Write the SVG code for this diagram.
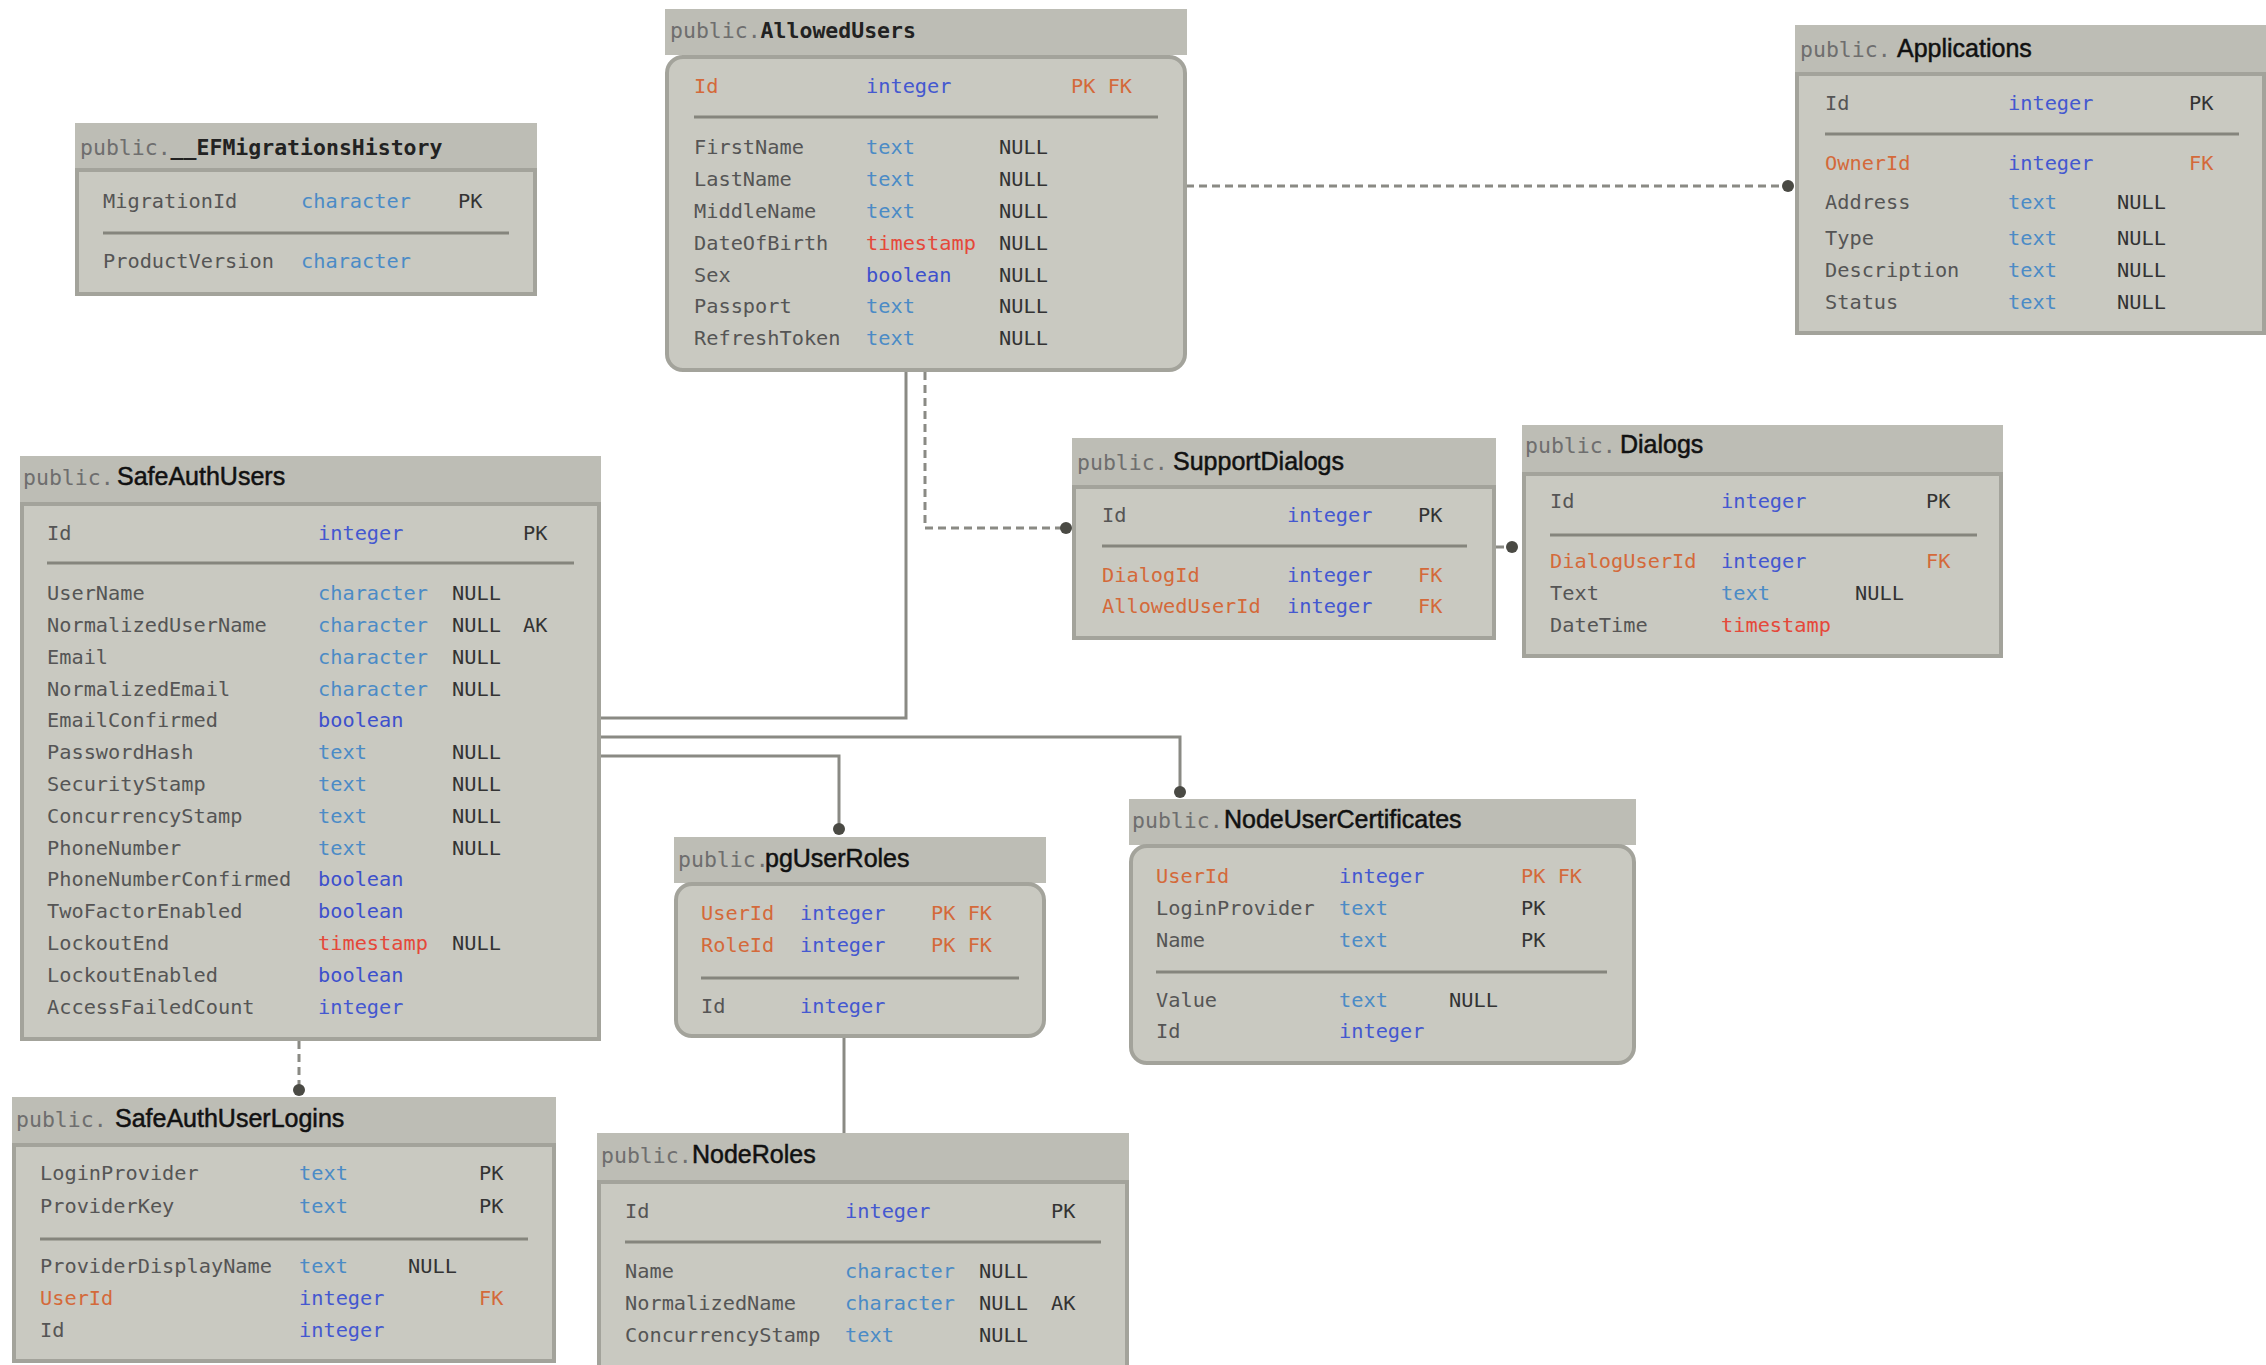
<svg xmlns="http://www.w3.org/2000/svg" width="2266" height="1365" viewBox="0 0 2266 1365">
<style>
.hd{fill:#bdbdb5}
.bd{fill:#c9c9c1;stroke:#a3a39b;stroke-width:4}
.sep{stroke:#85857d;stroke-width:3}
text{font-family:"DejaVu Sans Mono","Liberation Mono",monospace;font-size:20.3px}
.pub{fill:#6e6e6e;font-size:21.5px}
.tn{font-family:"Liberation Sans",Arial,sans-serif;font-size:25px;fill:#111;stroke:#111;stroke-width:0.5}
.tm{font-weight:bold;font-size:21.5px;fill:#222}
.c{fill:#555}
.o{fill:#d4693a}
.i{fill:#4458d0}
.t{fill:#4b8bc6}
.b{fill:#3d50cc}
.s{fill:#e5483a}
.k{fill:#333}
.ln{stroke:#8a8a84;stroke-width:3;fill:none}
.dash{stroke-dasharray:8 5}
.dot{fill:#4a4a44}
</style>

<g id="connectors">
<path class="ln dash" d="M1186,186 H1788"/>
<circle class="dot" cx="1788" cy="186" r="6"/>
<path class="ln dash" d="M925,372 V528 H1066"/>
<circle class="dot" cx="1066" cy="528" r="6"/>
<path class="ln dash" d="M1496,547 H1512"/>
<circle class="dot" cx="1512" cy="547" r="6"/>
<path class="ln" d="M601,718 H906 V372"/>
<path class="ln" d="M601,737 H1180 V792"/>
<circle class="dot" cx="1180" cy="792" r="6"/>
<path class="ln" d="M601,756 H839 V829"/>
<circle class="dot" cx="839" cy="829" r="6"/>
<path class="ln dash" d="M299,1041 V1090"/>
<circle class="dot" cx="299" cy="1090" r="6"/>
<path class="ln" d="M844,1038 V1133"/>
</g>

<g id="EFMigrationsHistory">
<rect class="hd" x="75" y="123" width="462" height="47"/>
<rect class="bd" x="77" y="170" width="458" height="124"/>
<text x="80" y="155" class="pub">public.<tspan class="tm">__EFMigrationsHistory</tspan></text>
<text x="103" y="208" class="c">MigrationId</text><text x="301" y="208" class="t">character</text><text x="458" y="208" class="k">PK</text>
<line class="sep" x1="103" y1="233" x2="509" y2="233"/>
<text x="103" y="268" class="c">ProductVersion</text><text x="301" y="268" class="t">character</text>
</g>

<g id="AllowedUsers">
<rect class="hd" x="665" y="9" width="522" height="46"/>
<rect class="bd" x="667" y="57" width="518" height="313" rx="16"/>
<text x="670" y="38" class="pub">public.<tspan class="tm">AllowedUsers</tspan></text>
<text x="694" y="93" class="o">Id</text><text x="866" y="93" class="i">integer</text><text x="1071" y="93" class="o">PK FK</text>
<line class="sep" x1="694" y1="117" x2="1158" y2="117"/>
<text x="694" y="154" class="c">FirstName</text><text x="866" y="154" class="t">text</text><text x="999" y="154" class="k">NULL</text>
<text x="694" y="186" class="c">LastName</text><text x="866" y="186" class="t">text</text><text x="999" y="186" class="k">NULL</text>
<text x="694" y="218" class="c">MiddleName</text><text x="866" y="218" class="t">text</text><text x="999" y="218" class="k">NULL</text>
<text x="694" y="250" class="c">DateOfBirth</text><text x="866" y="250" class="s">timestamp</text><text x="999" y="250" class="k">NULL</text>
<text x="694" y="282" class="c">Sex</text><text x="866" y="282" class="b">boolean</text><text x="999" y="282" class="k">NULL</text>
<text x="694" y="313" class="c">Passport</text><text x="866" y="313" class="t">text</text><text x="999" y="313" class="k">NULL</text>
<text x="694" y="345" class="c">RefreshToken</text><text x="866" y="345" class="t">text</text><text x="999" y="345" class="k">NULL</text>
</g>

<g id="Applications">
<rect class="hd" x="1795" y="25" width="471" height="49"/>
<rect class="bd" x="1797" y="74" width="467" height="259"/>
<text x="1800" y="57" class="pub">public.</text><text x="1897" y="57" class="tn">Applications</text>
<text x="1825" y="110" class="c">Id</text><text x="2008" y="110" class="i">integer</text><text x="2189" y="110" class="k">PK</text>
<line class="sep" x1="1825" y1="134" x2="2239" y2="134"/>
<text x="1825" y="170" class="o">OwnerId</text><text x="2008" y="170" class="i">integer</text><text x="2189" y="170" class="o">FK</text>
<text x="1825" y="209" class="c">Address</text><text x="2008" y="209" class="t">text</text><text x="2117" y="209" class="k">NULL</text>
<text x="1825" y="245" class="c">Type</text><text x="2008" y="245" class="t">text</text><text x="2117" y="245" class="k">NULL</text>
<text x="1825" y="277" class="c">Description</text><text x="2008" y="277" class="t">text</text><text x="2117" y="277" class="k">NULL</text>
<text x="1825" y="309" class="c">Status</text><text x="2008" y="309" class="t">text</text><text x="2117" y="309" class="k">NULL</text>
</g>

<g id="SafeAuthUsers">
<rect class="hd" x="20" y="456" width="581" height="48"/>
<rect class="bd" x="22" y="504" width="577" height="535"/>
<text x="23" y="485" class="pub">public.</text><text x="117" y="485" class="tn">SafeAuthUsers</text>
<text x="47" y="540" class="c">Id</text><text x="318" y="540" class="i">integer</text><text x="523" y="540" class="k">PK</text>
<line class="sep" x1="47" y1="563" x2="574" y2="563"/>
<text x="47" y="600" class="c">UserName</text><text x="318" y="600" class="t">character</text><text x="452" y="600" class="k">NULL</text>
<text x="47" y="632" class="c">NormalizedUserName</text><text x="318" y="632" class="t">character</text><text x="452" y="632" class="k">NULL</text><text x="523" y="632" class="k">AK</text>
<text x="47" y="664" class="c">Email</text><text x="318" y="664" class="t">character</text><text x="452" y="664" class="k">NULL</text>
<text x="47" y="696" class="c">NormalizedEmail</text><text x="318" y="696" class="t">character</text><text x="452" y="696" class="k">NULL</text>
<text x="47" y="727" class="c">EmailConfirmed</text><text x="318" y="727" class="b">boolean</text>
<text x="47" y="759" class="c">PasswordHash</text><text x="318" y="759" class="t">text</text><text x="452" y="759" class="k">NULL</text>
<text x="47" y="791" class="c">SecurityStamp</text><text x="318" y="791" class="t">text</text><text x="452" y="791" class="k">NULL</text>
<text x="47" y="823" class="c">ConcurrencyStamp</text><text x="318" y="823" class="t">text</text><text x="452" y="823" class="k">NULL</text>
<text x="47" y="855" class="c">PhoneNumber</text><text x="318" y="855" class="t">text</text><text x="452" y="855" class="k">NULL</text>
<text x="47" y="886" class="c">PhoneNumberConfirmed</text><text x="318" y="886" class="b">boolean</text>
<text x="47" y="918" class="c">TwoFactorEnabled</text><text x="318" y="918" class="b">boolean</text>
<text x="47" y="950" class="c">LockoutEnd</text><text x="318" y="950" class="s">timestamp</text><text x="452" y="950" class="k">NULL</text>
<text x="47" y="982" class="c">LockoutEnabled</text><text x="318" y="982" class="b">boolean</text>
<text x="47" y="1014" class="c">AccessFailedCount</text><text x="318" y="1014" class="i">integer</text>
</g>

<g id="SupportDialogs">
<rect class="hd" x="1072" y="438" width="424" height="49"/>
<rect class="bd" x="1074" y="487" width="420" height="151"/>
<text x="1077" y="470" class="pub">public.</text><text x="1173" y="470" class="tn">SupportDialogs</text>
<text x="1102" y="522" class="c">Id</text><text x="1287" y="522" class="i">integer</text><text x="1418" y="522" class="k">PK</text>
<line class="sep" x1="1102" y1="546" x2="1467" y2="546"/>
<text x="1102" y="582" class="o">DialogId</text><text x="1287" y="582" class="i">integer</text><text x="1418" y="582" class="o">FK</text>
<text x="1102" y="613" class="o">AllowedUserId</text><text x="1287" y="613" class="i">integer</text><text x="1418" y="613" class="o">FK</text>
</g>

<g id="Dialogs">
<rect class="hd" x="1522" y="425" width="481" height="49"/>
<rect class="bd" x="1524" y="474" width="477" height="182"/>
<text x="1525" y="453" class="pub">public.</text><text x="1620" y="453" class="tn">Dialogs</text>
<text x="1550" y="508" class="c">Id</text><text x="1721" y="508" class="i">integer</text><text x="1926" y="508" class="k">PK</text>
<line class="sep" x1="1550" y1="535" x2="1977" y2="535"/>
<text x="1550" y="568" class="o">DialogUserId</text><text x="1721" y="568" class="i">integer</text><text x="1926" y="568" class="o">FK</text>
<text x="1550" y="600" class="c">Text</text><text x="1721" y="600" class="t">text</text><text x="1855" y="600" class="k">NULL</text>
<text x="1550" y="632" class="c">DateTime</text><text x="1721" y="632" class="s">timestamp</text>
</g>

<g id="NodeUserCertificates">
<rect class="hd" x="1129" y="799" width="507" height="46"/>
<rect class="bd" x="1131" y="846" width="503" height="217" rx="16"/>
<text x="1132" y="828" class="pub">public.</text><text x="1224" y="828" class="tn">NodeUserCertificates</text>
<text x="1156" y="883" class="o">UserId</text><text x="1339" y="883" class="i">integer</text><text x="1521" y="883" class="o">PK FK</text>
<text x="1156" y="915" class="c">LoginProvider</text><text x="1339" y="915" class="t">text</text><text x="1521" y="915" class="k">PK</text>
<text x="1156" y="947" class="c">Name</text><text x="1339" y="947" class="t">text</text><text x="1521" y="947" class="k">PK</text>
<line class="sep" x1="1156" y1="972" x2="1607" y2="972"/>
<text x="1156" y="1007" class="c">Value</text><text x="1339" y="1007" class="t">text</text><text x="1449" y="1007" class="k">NULL</text>
<text x="1156" y="1038" class="c">Id</text><text x="1339" y="1038" class="i">integer</text>
</g>

<g id="pgUserRoles">
<rect class="hd" x="674" y="837" width="372" height="46"/>
<rect class="bd" x="676" y="884" width="368" height="152" rx="16"/>
<text x="678" y="867" class="pub">public.</text><text x="765" y="867" class="tn">pgUserRoles</text>
<text x="701" y="920" class="o">UserId</text><text x="800" y="920" class="i">integer</text><text x="931" y="920" class="o">PK FK</text>
<text x="701" y="952" class="o">RoleId</text><text x="800" y="952" class="i">integer</text><text x="931" y="952" class="o">PK FK</text>
<line class="sep" x1="701" y1="978" x2="1019" y2="978"/>
<text x="701" y="1013" class="c">Id</text><text x="800" y="1013" class="i">integer</text>
</g>

<g id="SafeAuthUserLogins">
<rect class="hd" x="12" y="1097" width="544" height="48"/>
<rect class="bd" x="14" y="1145" width="540" height="216"/>
<text x="16" y="1127" class="pub">public.</text><text x="115" y="1127" class="tn">SafeAuthUserLogins</text>
<text x="40" y="1180" class="c">LoginProvider</text><text x="299" y="1180" class="t">text</text><text x="479" y="1180" class="k">PK</text>
<text x="40" y="1213" class="c">ProviderKey</text><text x="299" y="1213" class="t">text</text><text x="479" y="1213" class="k">PK</text>
<line class="sep" x1="40" y1="1239" x2="528" y2="1239"/>
<text x="40" y="1273" class="c">ProviderDisplayName</text><text x="299" y="1273" class="t">text</text><text x="408" y="1273" class="k">NULL</text>
<text x="40" y="1305" class="o">UserId</text><text x="299" y="1305" class="i">integer</text><text x="479" y="1305" class="o">FK</text>
<text x="40" y="1337" class="c">Id</text><text x="299" y="1337" class="i">integer</text>
</g>

<g id="NodeRoles">
<rect class="hd" x="597" y="1133" width="532" height="49"/>
<rect class="bd" x="599" y="1182" width="528" height="200"/>
<text x="601" y="1163" class="pub">public.</text><text x="692" y="1163" class="tn">NodeRoles</text>
<text x="625" y="1218" class="c">Id</text><text x="845" y="1218" class="i">integer</text><text x="1051" y="1218" class="k">PK</text>
<line class="sep" x1="625" y1="1242" x2="1101" y2="1242"/>
<text x="625" y="1278" class="c">Name</text><text x="845" y="1278" class="t">character</text><text x="979" y="1278" class="k">NULL</text>
<text x="625" y="1310" class="c">NormalizedName</text><text x="845" y="1310" class="t">character</text><text x="979" y="1310" class="k">NULL</text><text x="1051" y="1310" class="k">AK</text>
<text x="625" y="1342" class="c">ConcurrencyStamp</text><text x="845" y="1342" class="t">text</text><text x="979" y="1342" class="k">NULL</text>
</g>
</svg>
